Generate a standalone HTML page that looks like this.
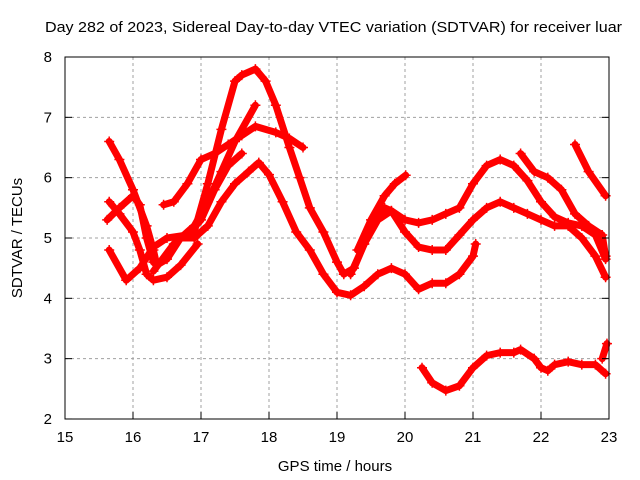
<!DOCTYPE html>
<html><head><meta charset="utf-8"><style>
body{margin:0;background:#fff}
svg{display:block;font-family:"Liberation Sans",sans-serif}
</style></head><body>
<svg id="chart" width="640" height="480" viewBox="0 0 640 480">
<rect width="640" height="480" fill="#fff"/>
<text x="45" y="32" font-size="15" textLength="577" lengthAdjust="spacingAndGlyphs">Day 282 of 2023, Sidereal Day-to-day VTEC variation (SDTVAR) for receiver luar</text>
<g id="grid"></g>
<g id="series"></g>
<rect x="65" y="57" width="544" height="362" fill="none" stroke="#000" stroke-width="1"/>
<g id="ticks" font-size="15"></g>
<text x="335" y="471" font-size="15" text-anchor="middle">GPS time / hours</text>
<text transform="translate(22,238) rotate(-90)" font-size="15" text-anchor="middle">SDTVAR / TECUs</text>
</svg>
<script>
const xTicks=[15,16,17,18,19,20,21,22,23];
const yTicks=[2,3,4,5,6,7,8];
const s1x=[15.65,15.8,16.0,16.2,16.3,16.35,16.5,16.7,16.9,17.1,17.3,17.5,17.7,17.85,18.0,18.2,18.4,18.6,18.8,19.0,19.2,19.4,19.6,19.8,20.0,20.2,20.4,20.6,20.8,21.0,21.04];
const s1y=[6.6,6.3,5.8,5.2,4.8,4.55,4.65,5.0,5.0,5.2,5.6,5.9,6.1,6.25,6.05,5.6,5.1,4.8,4.4,4.1,4.05,4.2,4.4,4.5,4.4,4.15,4.25,4.25,4.4,4.7,4.9];
const s2x=[15.65,15.8,16.0,16.1,16.2,16.3,16.5,16.7,16.95];
const s2y=[5.6,5.4,5.1,4.8,4.4,4.3,4.35,4.55,4.9];
const s3x=[15.65,15.9,16.1,16.3,16.5,16.8,17.0,17.2,17.4,17.6];
const s3y=[4.8,4.3,4.5,4.85,5.0,5.05,5.3,5.8,6.2,6.4];
const s4x=[16.9,17.1,17.3,17.5,17.6,17.8,17.95,18.1,18.3,18.45,18.6,18.8,19.0,19.1,19.25,19.4,19.5,19.7,19.8,20.0,20.2,20.4,20.6,20.8,21.0,21.2,21.4,21.6,21.8,22.0,22.2,22.4,22.6,22.8,22.95];
const s4y=[5.1,5.9,6.8,7.6,7.7,7.8,7.6,7.2,6.5,6.0,5.5,5.1,4.6,4.4,4.5,4.9,5.2,5.5,5.45,5.3,5.25,5.3,5.4,5.5,5.9,6.2,6.3,6.2,5.95,5.6,5.35,5.25,5.2,5.05,4.65];
const s5x=[16.3,16.6,16.9,17.1,17.3,17.5,17.8];
const s5y=[4.45,4.9,5.2,5.6,6.1,6.6,7.2];
const s6x=[16.45,16.6,16.8,17.0,17.2,17.4,17.6,17.8,18.1,18.3,18.5];
const s6y=[5.55,5.6,5.9,6.3,6.4,6.55,6.7,6.85,6.75,6.65,6.5];
const s7x=[19.2,19.4,19.6,19.8,20.0,20.2,20.4,20.6,20.8,21.0,21.2,21.4,21.6,21.8,22.0,22.2,22.4,22.6,22.8,22.95];
const s7y=[4.4,4.9,5.3,5.45,5.1,4.85,4.8,4.8,5.05,5.3,5.5,5.6,5.5,5.4,5.3,5.2,5.2,5.0,4.7,4.35];
const s8x=[19.3,19.5,19.7,19.85,20.01];
const s8y=[4.8,5.3,5.7,5.9,6.04];
const s9x=[21.7,21.9,22.1,22.3,22.5,22.7,22.9,22.95];
const s9y=[6.4,6.1,6.0,5.8,5.4,5.2,5.05,4.7];
const s10x=[22.5,22.7,22.95];
const s10y=[6.55,6.1,5.7];
const s11x=[20.25,20.4,20.6,20.8,21.0,21.2,21.4,21.6,21.7,21.9,22.0,22.1,22.2,22.4,22.6,22.8,22.95];
const s11y=[2.85,2.6,2.47,2.55,2.85,3.05,3.1,3.1,3.15,3.0,2.85,2.8,2.9,2.95,2.9,2.9,2.75];
const s12x=[22.9,22.97];
const s12y=[3.0,3.25];
const s13x=[15.62,15.8,16.0,16.1,16.2,16.3];
const s13y=[5.3,5.5,5.7,5.55,5.0,4.6];
const seriesX=[s1x,s2x,s3x,s4x,s5x,s6x,s7x,s8x,s9x,s10x,s11x,s12x,s13x];
const seriesY=[s1y,s2y,s3y,s4y,s5y,s6y,s7y,s8y,s9y,s10y,s11y,s12y,s13y];
const NS="http://www.w3.org/2000/svg";
const X=h=>65+(h-15)*68, Y=v=>57+(8-v)*60.33;
const grid=document.getElementById('grid'),ticks=document.getElementById('ticks'),sg=document.getElementById('series');
function mk(t,a,p){const e=document.createElementNS(NS,t);for(const k in a)e.setAttribute(k,a[k]);p.appendChild(e);return e;}
xTicks.forEach(t=>{
 if(t>15&&t<23){const g=mk('line',{x1:X(t),x2:X(t),y1:57,y2:419,stroke:'#a0a0a0','stroke-dasharray':'3,3'},grid);
 }
 const tl=mk('line',{x1:X(t),x2:X(t),y1:419,y2:412,stroke:'#000'},ticks);
 
 const tx=mk('text',{x:X(t),y:442,'text-anchor':'middle'},ticks);tx.textContent=t;
 
});
yTicks.forEach(t=>{
 if(t>2&&t<8){const g=mk('line',{x1:65,x2:609,y1:Y(t),y2:Y(t),stroke:'#a0a0a0','stroke-dasharray':'3,3'},grid);
 }
 const tl=mk('line',{x1:65,x2:72,y1:Y(t),y2:Y(t),stroke:'#000'},ticks);
 
 const tr=mk('line',{x1:602,x2:609,y1:Y(t),y2:Y(t),stroke:'#000'},ticks);
 
 const tx=mk('text',{x:52,y:Y(t)+5,'text-anchor':'end'},ticks);tx.textContent=t;
 
});
seriesX.forEach((xs,i)=>{
 const ys=seriesY[i];
 const pl=mk('polyline',{points:xs.map((x,j)=>X(x)+','+Y(ys[j])).join(' '),fill:'none',stroke:'#ff0000','stroke-width':7,'stroke-linejoin':'round','stroke-linecap':'round'},sg);
 
 
 xs.forEach((x,j)=>{
  const px=X(x),py=Y(ys[j]);
  const m=mk('path',{d:`M${px-5},${py}H${px+5}M${px},${py-5}V${py+5}`,stroke:'#ff0000','stroke-width':1.5},sg);
  
  
 });
});
</script>
</body></html>
